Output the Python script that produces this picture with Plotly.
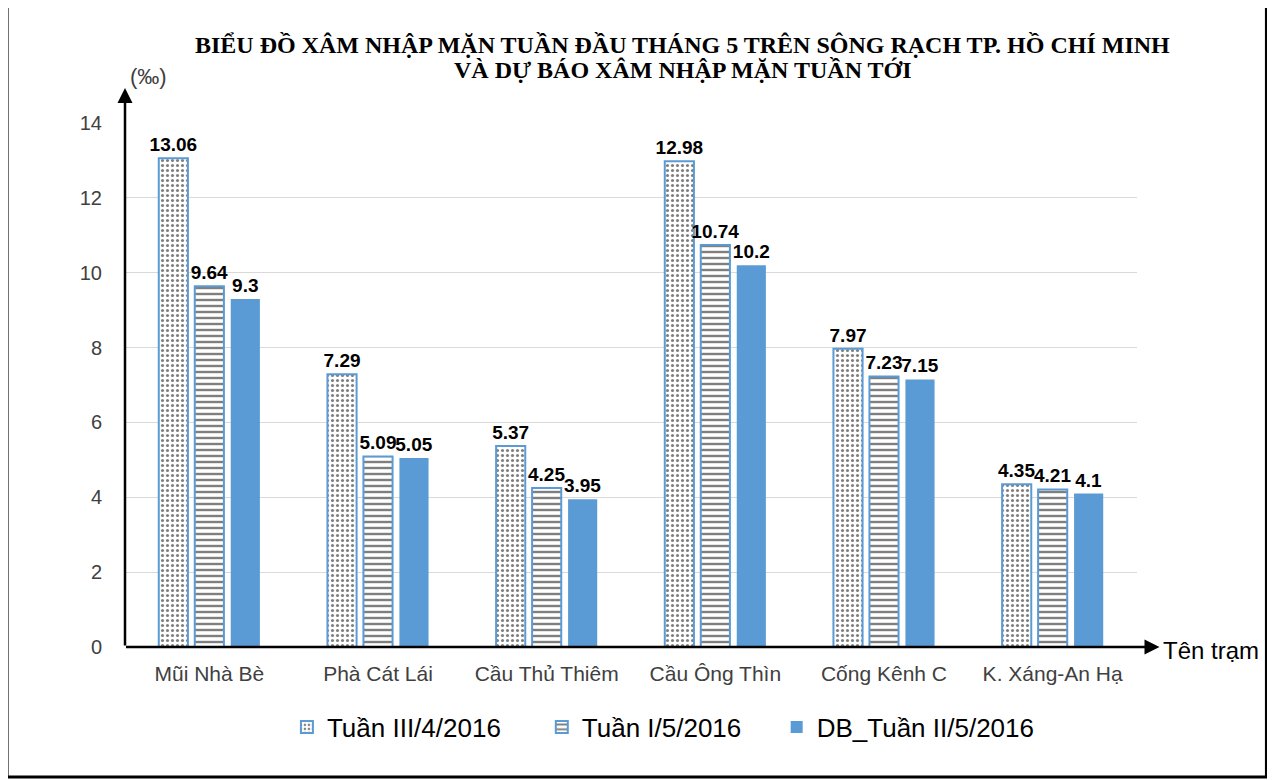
import plotly.graph_objects as go

categories = ["Mũi Nhà Bè", "Phà Cát Lái", "Cầu Thủ Thiêm", "Cầu Ông Thìn", "Cống Kênh C", "K. Xáng-An Hạ"]
series_names = ["Tuần III/4/2016", "Tuần I/5/2016", "DB_Tuần II/5/2016"]
tuan3_4 = [13.06, 7.29, 5.37, 12.98, 7.97, 4.35]
tuan1_5 = [9.64, 5.09, 4.25, 10.74, 7.23, 4.21]
db_tuan2_5 = [9.3, 5.05, 3.95, 10.2, 7.15, 4.1]
y_ticks = [0, 2, 4, 6, 8, 10, 12, 14]

BLUE = "#5B9BD5"
W, H = 1275, 780
OFF = 8  # page body margin
# target screen positions of the plot area
SX0, SX1, SY0, SY1 = 125, 1137.5, 123, 647
L = SX0 - OFF
R = W - (SX1 - OFF)
T = SY0 - OFF
B = H - (SY1 - OFF)
pw = SX1 - SX0
ph = SY1 - SY0

def px2paper_x(px):
    return (px - SX0) / pw

def px2paper_y(py):
    return (SY1 - py) / ph

label_font = dict(family="Liberation Sans", size=19, color="black")

fig = go.Figure()
fig.add_trace(go.Bar(
    x=categories, y=tuan3_4, name=series_names[0], legend="legend",
    marker=dict(color="white", line=dict(color=BLUE, width=2),
                pattern=dict(shape=".", fgcolor="black", bgcolor="white", size=5, solidity=0.3)),
    text=[f"{v:g}" for v in tuan3_4], textposition="outside", texttemplate="<b>%{text}</b>",
    textfont=label_font, cliponaxis=False, constraintext="none",
))
fig.add_trace(go.Bar(
    x=categories, y=tuan1_5, name=series_names[1], legend="legend2",
    marker=dict(color="white", line=dict(color=BLUE, width=2),
                pattern=dict(shape="-", fgcolor="black", bgcolor="white", size=6, solidity=0.4)),
    text=[f"{v:g}" for v in tuan1_5], textposition="outside", texttemplate="<b>%{text}</b>",
    textfont=label_font, cliponaxis=False, constraintext="none",
))
fig.add_trace(go.Bar(
    x=categories, y=db_tuan2_5, name=series_names[2], legend="legend3",
    marker=dict(color=BLUE, line=dict(color=BLUE, width=0)),
    text=[f"{v:g}" for v in db_tuan2_5], textposition="outside", texttemplate="<b>%{text}</b>",
    textfont=label_font, cliponaxis=False, constraintext="none",
))

def legend_at(xpx):
    return dict(
        orientation="h", x=px2paper_x(xpx), xanchor="left", y=px2paper_y(727), yanchor="middle",
        font=dict(family="Liberation Sans", size=26, color="black"),
        itemsizing="constant", bgcolor="rgba(0,0,0,0)",
    )

fig.update_layout(
    width=W, height=H,
    margin=dict(l=L, r=R, t=T, b=B, autoexpand=False),
    paper_bgcolor="white", plot_bgcolor="white",
    barmode="group", bargap=0.36, bargroupgap=0.19,
    font=dict(family="Liberation Sans", color="#595959"),
    showlegend=True,
    legend=legend_at(287),
    legend2=legend_at(542),
    legend3=legend_at(777),
    xaxis=dict(
        showline=False, ticks="", tickfont=dict(size=21, color="#404040"),
        ticklabelstandoff=12, showgrid=False,
    ),
    yaxis=dict(
        range=[0, 14], tickvals=y_ticks, showgrid=True, gridcolor="#d9d9d9", gridwidth=1,
        zeroline=False, showline=False, ticks="",
        tickfont=dict(size=20, color="#404040"), ticklabelstandoff=22,
    ),
)

# Title (two lines, serif bold)
title_lines = ["BIỂU ĐỒ XÂM NHẬP MẶN TUẦN ĐẦU THÁNG 5 TRÊN SÔNG RẠCH TP. HỒ CHÍ MINH",
               "VÀ DỰ BÁO XÂM NHẬP MẶN TUẦN TỚI"]
for line, ypx in zip(title_lines, [45, 70]):
    fig.add_annotation(x=px2paper_x(683), y=px2paper_y(ypx), xref="paper", yref="paper",
                       text=f"<b>{line}</b>", showarrow=False, xanchor="center", yanchor="middle",
                       font=dict(family="Liberation Serif", size=24, color="black"))

# Axis arrows (tail offsets in pixels)
y_head = 88
x_head = 1160
fig.add_annotation(x=0, y=px2paper_y(y_head), xref="paper", yref="paper",
                   ax=0, ay=SY1 - y_head,
                   showarrow=True, arrowhead=2, arrowsize=1.2, arrowwidth=2.5, arrowcolor="black", text="")
fig.add_annotation(x=px2paper_x(x_head), y=0, xref="paper", yref="paper",
                   ax=-(x_head - SX0), ay=0,
                   showarrow=True, arrowhead=2, arrowsize=1.2, arrowwidth=2.5, arrowcolor="black", text="")

fig.add_annotation(x=px2paper_x(128), y=px2paper_y(62), xref="paper", yref="paper",
                   text="(‰)", showarrow=False, font=dict(family="Liberation Sans", size=22, color="#404040"))
fig.add_annotation(x=px2paper_x(1162), y=px2paper_y(650), xref="paper", yref="paper", xanchor="left", yanchor="middle",
                   text="Tên trạm", showarrow=False, font=dict(family="Liberation Sans", size=24, color="black"))

# Frame
fig.add_shape(type="rect", xref="paper", yref="paper",
              x0=px2paper_x(7), x1=px2paper_x(1267), y0=px2paper_y(777), y1=px2paper_y(5),
              line=dict(color="black", width=3), fillcolor="rgba(0,0,0,0)", layer="above")

fig.write_html("out.html")
